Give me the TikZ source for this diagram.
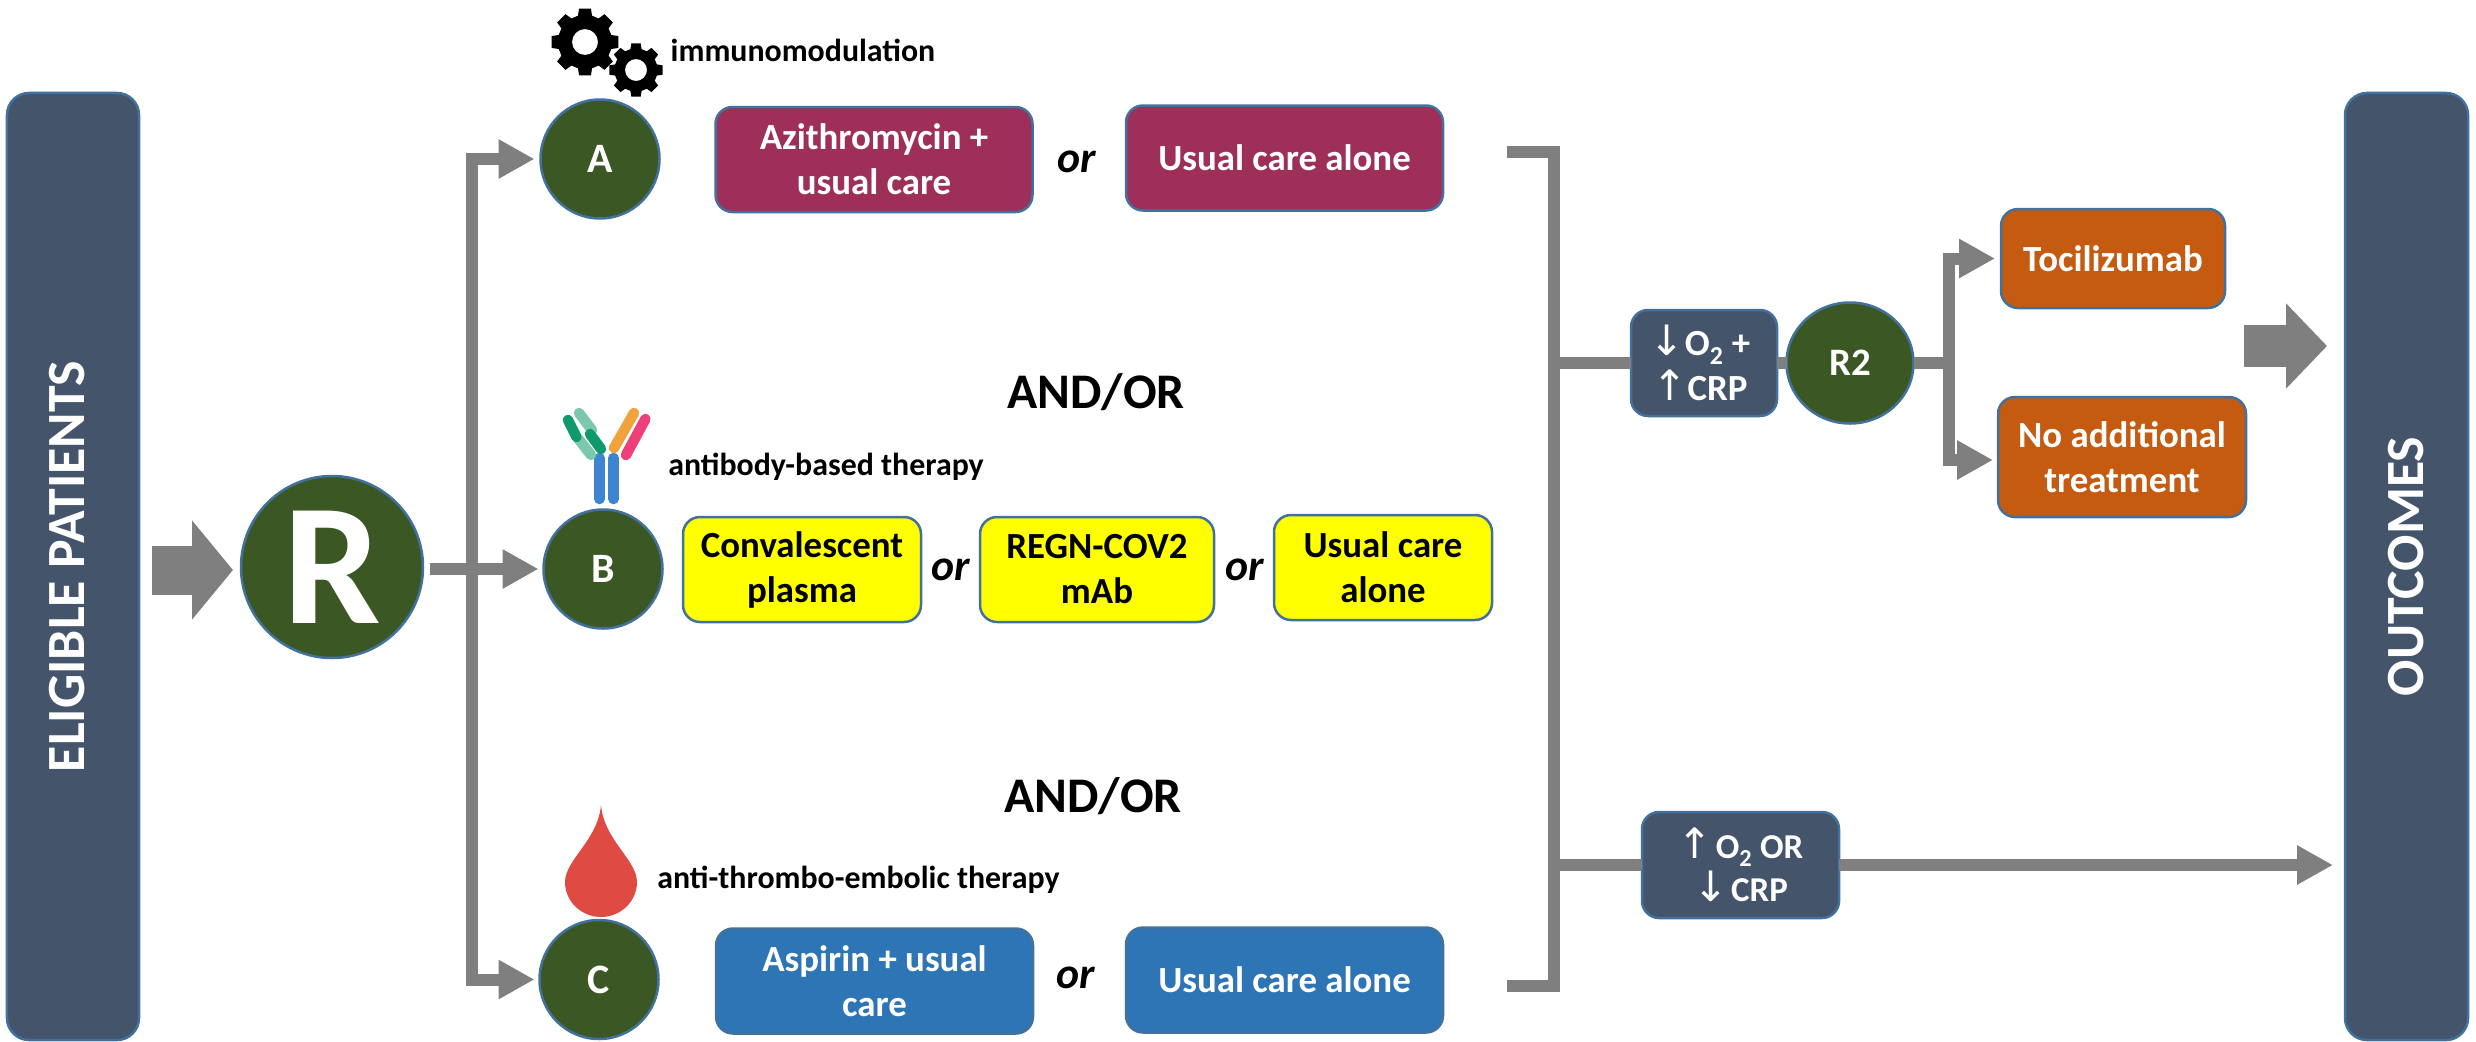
\documentclass[tikz,border=0pt]{standalone}
\usepackage{fontspec}
\setmainfont{Carlito}
\newfontfamily\arrowfont{DejaVu Sans}
\usetikzlibrary{arrows.meta,shapes.geometric}

\definecolor{barblue}{HTML}{44546A}
\definecolor{edgeblue}{HTML}{41719C}
\definecolor{rgreen}{HTML}{3B5723}
\definecolor{maroon}{HTML}{9E2F58}
\definecolor{aspblue}{HTML}{2E75B6}
\definecolor{rescue}{HTML}{C55A11}
\definecolor{plasmayellow}{rgb}{1,1,0}
\definecolor{flowgray}{HTML}{7F7F7F}
\definecolor{dropred}{HTML}{DF4A43}
\definecolor{stemblue}{HTML}{3D85D0}
\definecolor{lightarm}{HTML}{7CC8AE}
\definecolor{darkarm}{HTML}{0E9A6B}
\definecolor{orangearm}{HTML}{F0A33C}
\definecolor{pinkarm}{HTML}{EE3F7A}

\newcommand{\fs}[1]{\fontsize{#1}{1.22\dimexpr#1pt\relax}\selectfont\bfseries}
\newcommand{\up}{{\arrowfont\mdseries\fontsize{42}{42}\selectfont\char"2191}}
\newcommand{\down}{{\arrowfont\mdseries\fontsize{42}{42}\selectfont\char"2193}}
\newcommand{\gearicon}[4]{%
	\fill[black,even odd rule,shift={(#1,#2)}] (-15:0.8*#3)
		\foreach \a in {0,45,...,315} {
			-- (\a-15:0.8*#3) -- (\a-10:#3) -- (\a+10:#3) -- (\a+15:0.8*#3)
		} -- cycle (0,0) circle [radius=#4];
}

\tikzset{
	bar/.style={draw=edgeblue,fill=barblue,line width=2.5bp,rounded corners=22bp,rotate=90,
		minimum height=#1,minimum width=947bp,inner sep=0,outer sep=0,text=white,font=\fs{54}},
	round/.style={ellipse,draw=edgeblue,fill=rgreen,line width=2.5bp,inner sep=0,outer sep=0,text=white},
	arm/.style={circle,minimum size=119bp,round,font=\fs{42}},
	box/.style={draw=edgeblue,line width=2.5bp,rounded corners=17bp,inner sep=0,outer sep=0,
		align=center,font=\fs{37},text=white,minimum width=#1},
	trial/.style={box=#1,minimum height=105bp},
	check/.style={box=#1,fill=barblue,minimum height=106bp},
	orword/.style={inner sep=0,font=\fs{44}\itshape},
	andor/.style={inner sep=0,font=\fs{50}},
	tag/.style={inner sep=0,font=\fs{32}},
	flow/.style={draw=flowgray,line width=12bp,line join=miter,-{Triangle[length=36bp,width=37bp]}},
	plainflow/.style={draw=flowgray,line width=12bp,line join=miter},
	fat/.style={draw=flowgray,-{Triangle[length=41bp,width=#1]}},
	chain/.style={draw=#1,line width=10.5bp,line cap=round}
}

\begin{document}
\begin{tikzpicture}[x=1bp,y=-1bp]
	\useasboundingbox (0,0) rectangle (2476,1041);

	\node (eligible) at (73,566.5)   [bar=132bp] {\raisebox{12bp}{ELIGIBLE PATIENTS}};
	\node (outcomes) at (2406.5,566.5) [bar=123bp] {OUTCOMES};

	\node (R)  at (332,567)   [round,minimum width=182bp,minimum height=182bp,font=\fs{174}] {R};
	\node (A)  at (600,159)   [arm] {A};
	\node (B)  at (603,569)   [arm] {B};
	\node (C)  at (599,979.5) [arm] {C};
	\node (R2) at (1850,363)  [round,minimum width=127bp,minimum height=121bp,font=\fs{39}] {R2};

	\node (azi)    at (874,159.5)  [trial=317bp,fill=maroon] {Azithromycin +\\usual care};
	\node (orA)    at (1077,162)   [orword] {or};
	\node (usualA) at (1284.5,158) [trial=317bp,fill=maroon] {Usual care alone};

	\node (plasma) at (802,569.5)  [trial=238bp,fill=plasmayellow,text=black] {Convalescent\\plasma};
	\node (orB)    at (951,570)    [orword] {or};
	\node (regn)   at (1097,569.5) [trial=234bp,fill=plasmayellow,text=black] {REGN-COV2\\mAb};
	\node (orBb)   at (1245,570)   [orword] {or};
	\node (usualB) at (1383,567.5) [trial=218bp,fill=plasmayellow,text=black] {Usual care\\alone};

	\node (asp)    at (874.5,981)  [trial=317bp,fill=aspblue] {Aspirin + usual\\care};
	\node (orC)    at (1076,978)   [orword] {or};
	\node (usualC) at (1284.5,980) [trial=317bp,fill=aspblue] {Usual care alone};

	\node (andorA) at (1096,392) [andor] {AND/OR};
	\node (andorB) at (1093,796) [andor] {AND/OR};

	\node (immuno) at (803,50)   [tag] {immunomodulation};
	\node (abody)  at (826,467)  [tag] {antibody-based therapy};
	\node (embol)  at (858.5,880) [tag] {anti-thrombo-embolic therapy};

	\node (lowbox)  at (1704,363)  [check=146bp,font=\fs{37}] {\hspace{-8bp}\down O\textsubscript{2} +\\\hspace{-8bp}\up CRP};
	\node (highbox) at (1740.5,865) [check=197bp,font=\fs{35}] {\up\hspace{3bp}O\textsubscript{2} OR\\\down\hspace{3bp}CRP};

	\node (toci)  at (2113,258.5) [box=224bp,minimum height=99bp,fill=rescue] {Tocilizumab};
	\node (noadd) at (2122,457)   [box=248bp,minimum height=120bp,fill=rescue] {No additional\\treatment};

	\coordinate (fatin)   at (139,570);
	\coordinate (fatout)  at (2244,346);
	\coordinate (split)   at (472,568);
	\coordinate (brtop)   at (1507,152);
	\coordinate (brbot)   at (1507,986);
	\coordinate (brmid)   at (1554,363);
	\coordinate (brlow)   at (1554,865);
	\coordinate (r2split) at (1949,363);

	\draw [fat=97bp,line width=49bp,shorten <=13bp,shorten >=8bp] (fatin) -- (R.west |- fatin);
	\draw [fat=83bp,line width=42bp] (fatout) -- (2327,346);

	\draw [flow,shorten <=7bp,shorten >=5bp] (B.west -| R.east) -- (B.west);
	\draw [flow,shorten >=6bp] (split) |- (A.west);
	\draw [flow,shorten >=5bp] (split) |- (C.west);

	\draw [plainflow] (brtop) -| (brlow) |- (brbot);
	\draw [plainflow] (brmid) -- (lowbox);
	\draw [plainflow] (lowbox) -- (R2);
	\draw [plainflow] (R2) -- (r2split);
	\draw [flow,shorten >=6bp] (r2split) |- (toci.west);
	\draw [flow,shorten >=5bp] (r2split) |- ([yshift=-3bp]noadd.west);

	\draw [plainflow] (brlow) -- (highbox);
	\draw [flow,shorten >=12bp] (highbox.east) -- (highbox.east -| outcomes.north);

	\gearicon{585}{42}{34}{13}
	\gearicon{636}{70}{27}{11}

	\draw [chain=stemblue] (599.5,458) -- (599.5,499);
	\draw [chain=stemblue] (613.5,458) -- (613.5,499);
	\draw [chain=lightarm] (579,413) -- (592,430);
	\draw [chain=lightarm] (578.5,439) -- (591,455);
	\draw [chain=darkarm] (568,420) -- (576.5,437);
	\draw [chain=darkarm] (590,434) -- (601,449);
	\draw [chain=orangearm] (634,413) -- (614,448);
	\draw [chain=pinkarm] (645.4,419) -- (626,455);

	\fill [dropred] (601,805) .. controls (604,840) and (637,860) .. (637,882)
		.. controls (637,902) and (620,917) .. (601,917)
		.. controls (582,917) and (565,902) .. (565,882)
		.. controls (565,860) and (598,840) .. (601,805) -- cycle;
\end{tikzpicture}
\end{document}
